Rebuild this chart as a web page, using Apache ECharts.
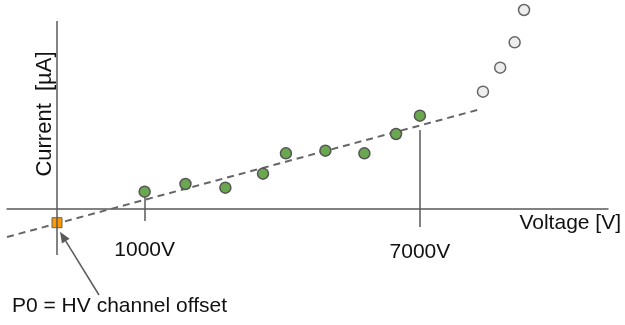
<!DOCTYPE html>
<html><head><meta charset="utf-8">
<script src="https://cdn.jsdelivr.net/npm/echarts@6/dist/echarts.min.js"></script>
<style>html,body{margin:0;padding:0;background:#fff}#c{width:625px;height:325px}</style>
</head><body><div id="c"></div>
<script>
// Data (voltage in V, current in arbitrary µA units)
const fitVoltage = [1000, 1890, 2760, 3580, 4080, 4940, 5790, 6480, 7000];
const fitCurrent = [1.73, 2.5, 2.13, 3.53, 5.57, 5.83, 5.57, 7.5, 9.33];
const highVoltage = [8375, 8750, 9065, 9270];
const highCurrent = [11.73, 14.13, 16.67, 19.9];
const offsetVoltage = [-910];
const offsetCurrent = [-1.37];
const trendVoltage = [-2000, 8250];
const trendCurrent = [-2.8, 9.9];
const tickVoltage = [1000, 7000];
const tickLabels = ['1000V', '7000V'];
const tickTop = [1.2, 7.9];
const tickBottom = [-1.2, -1.8];

const AX = '#5a5a5a';
const FONT = 'Liberation Sans, Arial, sans-serif';
const FS = 21;

const chart = echarts.init(document.getElementById('c'), null, {renderer: 'canvas'});

const zip = (a, b) => a.map((v, i) => [v, b[i]]);

const option = {
  animation: false,
  grid: {left: 7, right: 17, top: 21, bottom: 70},
  xAxis: {
    type: 'value', min: -2000, max: 11100,
    axisLine: {show: true, onZero: true, lineStyle: {color: AX, width: 1.5}},
    axisTick: {show: false}, axisLabel: {show: false}, splitLine: {show: false}
  },
  yAxis: {
    type: 'value', min: -4.6, max: 18.8,
    axisLine: {show: false}, axisTick: {show: false}, axisLabel: {show: false}, splitLine: {show: false}
  },
  series: [
    {
      type: 'line', data: zip(trendVoltage, trendCurrent), symbol: 'none', z: 1,
      lineStyle: {color: '#666', width: 2, type: [7, 5]},
      markLine: {
        silent: true, symbol: 'none', animation: false,
        lineStyle: {color: AX, width: 1.5, type: 'solid'},
        label: {show: false},
        data: [
          {xAxis: offsetVoltage[0]},
          ...tickVoltage.map((v, i) => [
            {coord: [v, tickTop[i]], label: {show: true, position: 'end', formatter: tickLabels[i],
              color: '#111', fontSize: FS, fontFamily: FONT, distance: i === 0 ? 19 : 15}},
            {coord: [v, tickBottom[i]]}
          ])
        ]
      }
    },
    {
      type: 'scatter', data: zip(fitVoltage, fitCurrent), symbolSize: 11, z: 3,
      itemStyle: {color: '#6aa84f', borderColor: '#555', borderWidth: 1.5, opacity: 1}
    },
    {
      type: 'scatter', data: zip(highVoltage, highCurrent), symbolSize: 11, z: 3, clip: false,
      itemStyle: {color: '#eeeeee', borderColor: '#666', borderWidth: 1.5, opacity: 1}
    },
    {
      type: 'scatter', data: zip(offsetVoltage, offsetCurrent), symbol: 'rect', symbolSize: 10, z: 4,
      itemStyle: {color: '#ff9900', borderColor: '#666', borderWidth: 1, opacity: 1}
    }
  ]
};
chart.setOption(option);

// annotations
const tip = chart.convertToPixel({gridIndex: 0}, [offsetVoltage[0], offsetCurrent[0]]);
const tipX = tip[0] + 3, tipY = tip[1] + 9;
const tailX = 99, tailY = 295;
const ang = Math.atan2(tipY - tailY, tipX - tailX);
const L = 11, W = 4.5;
const bx = tipX - L * Math.cos(ang), by = tipY - L * Math.sin(ang);
const px = -Math.sin(ang) * W, py = Math.cos(ang) * W;

chart.setOption({
  graphic: [
    {type: 'line', shape: {x1: tailX, y1: tailY, x2: bx, y2: by}, style: {stroke: AX, lineWidth: 1.5}, silent: true},
    {type: 'polygon', shape: {points: [[tipX, tipY], [bx + px, by + py], [bx - px, by - py]]}, style: {fill: AX}, silent: true},
    {type: 'text', x: 12, y: 306, style: {text: 'P0 = HV channel offset', fill: '#111', font: FS + 'px ' + FONT, textVerticalAlign: 'middle'}},
    {type: 'text', x: 621, y: 223, style: {text: 'Voltage [V]', fill: '#111', font: FS + 'px ' + FONT, textAlign: 'right', textVerticalAlign: 'middle'}},
    {type: 'text', x: 45, y: 114, rotation: Math.PI / 2, style: {text: 'Current  [µA]', fill: '#111', font: '22px ' + FONT, textAlign: 'center', textVerticalAlign: 'middle'}}
  ]
});
</script></body></html>
